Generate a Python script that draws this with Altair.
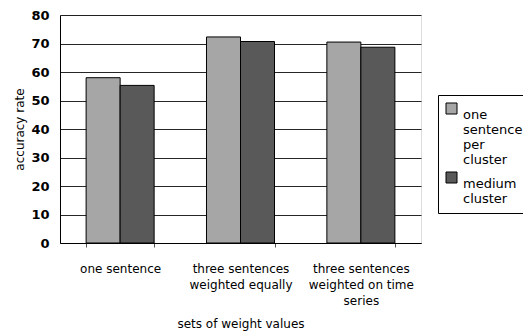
import altair as alt
import pandas as pd

categories = ["one sentence", "three sentences weighted equally", "three sentences weighted on time series"]
category_lines = [["one sentence"], ["three sentences", "weighted equally"], ["three sentences", "weighted on time", "series"]]
series = ["one sentence per cluster", "medium cluster"]
series_lines = [["one", "sentence", "per", "cluster"], ["medium", "cluster"]]
values_one_per_cluster = [58.0, 72.3, 70.5]
values_medium_cluster = [55.3, 70.7, 68.7]
colors = ["#a6a6a6", "#595959"]
y_ticks = [0, 10, 20, 30, 40, 50, 60, 70, 80]

rows = []
for c, a, b in zip(categories, values_one_per_cluster, values_medium_cluster):
    rows.append({"set": c, "series": series[0], "value": a})
    rows.append({"set": c, "series": series[1], "value": b})
df = pd.DataFrame(rows)


def lines_expr(keys, lines):
    expr = "datum.label"
    for k, l in reversed(list(zip(keys, lines))):
        arr = "[" + ",".join("'" + s + "'" for s in l) + "]"
        expr = f"datum.label == '{k}' ? {arr} : ({expr})"
    return expr


FONT = "DejaVu Sans"
x_scale = alt.Scale(paddingInner=0.435, paddingOuter=0.217)

chart = alt.Chart(df).mark_bar(stroke="black", strokeWidth=1).encode(
    x=alt.X(
        "set:N",
        sort=categories,
        scale=x_scale,
        axis=alt.Axis(
            title="sets of weight values",
            orient="bottom",
            labelAngle=0,
            labelExpr=lines_expr(categories, category_lines),
            labelFont=FONT,
            labelFontSize=12,
            labelColor="black",
            labelLineHeight=16,
            labelPadding=16,
            ticks=True,
            tickBand="extent",
            tickSize=4,
            tickColor="#555555",
            domainColor="black",
            titleFont=FONT,
            titleFontSize=12,
            titleFontWeight="normal",
            titleColor="black",
            titleY=80,
            titleBaseline="middle",
        ),
    ),
    xOffset=alt.XOffset("series:N", sort=series, scale=alt.Scale(paddingInner=0, paddingOuter=0)),
    y=alt.Y(
        "value:Q",
        scale=alt.Scale(domain=[0, 80], nice=False),
        axis=alt.Axis(
            title="accuracy rate",
            values=y_ticks,
            ticks=False,
            labelFont=FONT,
            labelFontSize=13,
            labelFontWeight="bold",
            labelColor="black",
            labelPadding=11,
            domainColor="black",
            gridColor="black",
            gridOpacity=0.85,
            titleFont=FONT,
            titleFontSize=12,
            titleFontWeight="normal",
            titleColor="black",
            titleX=-41,
            titleY=114,
            titleBaseline="middle",
        ),
    ),
    color=alt.Color(
        "series:N",
        sort=series,
        scale=alt.Scale(domain=series, range=colors),
        legend=alt.Legend(
            title=None,
            orient="none",
            legendX=378,
            legendY=80,
            strokeColor="black",
            padding=7,
            symbolType="square",
            symbolSize=121,
            symbolStrokeColor="black",
            symbolStrokeWidth=1,
            labelFont=FONT,
            labelFontSize=13,
            labelColor="black",
            labelBaseline="top",
            labelOffset=5,
            labelLimit=200,
            rowPadding=3,
            labelExpr=lines_expr(series, series_lines),
        ),
    ),
).properties(
    width=361,
    height=228,
    padding={"left": 60, "top": 15, "right": 102, "bottom": 93},
    autosize=alt.AutoSizeParams(type="none"),
).configure_view(stroke="#808080", strokeWidth=1).configure(background="white")

chart.save("out.html", embed_options={"renderer": "svg", "actions": False})
